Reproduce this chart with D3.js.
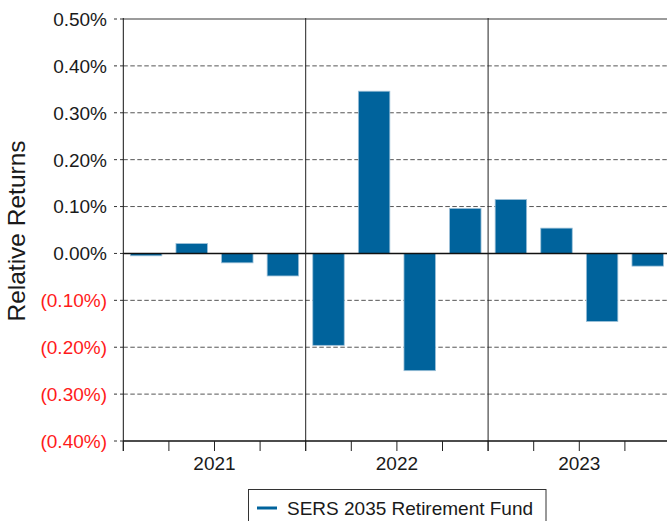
<!DOCTYPE html>
<html>
<head>
<meta charset="utf-8">
<script src="https://cdn.jsdelivr.net/npm/d3@7"></script>
<style>
  html, body { margin: 0; padding: 0; background: #fff; }
  svg { display: block; font-family: "Liberation Sans", Arial, sans-serif; }
</style>
</head>
<body>
<svg id="chart" width="667" height="521"></svg>
<script>
// Quarterly relative returns (%), 2021 Q1 – 2023 Q4
const years = ["2021", "2022", "2023"];
const periods = ["2021Q1","2021Q2","2021Q3","2021Q4","2022Q1","2022Q2","2022Q3","2022Q4","2023Q1","2023Q2","2023Q3","2023Q4"];
const relReturns = [-0.005, 0.021, -0.020, -0.048, -0.196, 0.346, -0.250, 0.096, 0.115, 0.054, -0.145, -0.027];
const yTicks = [0.5, 0.4, 0.3, 0.2, 0.1, 0.0, -0.1, -0.2, -0.3, -0.4];
const seriesName = "SERS 2035 Retirement Fund";

const svg = d3.select("#chart");
const plotLeft = 123.3, plotRight = 670.5, plotTop = 19, plotBottom = 441;

const x = d3.scaleBand().domain(periods).range([plotLeft, plotRight])
  .paddingInner(0.31).paddingOuter(0.155);
const y = d3.scaleLinear().domain([-0.4, 0.5]).range([plotBottom, plotTop]);
const step = x.step();

const fmt = v => {
  const s = Math.abs(v).toFixed(2) + "%";
  return v < 0 ? "(" + s + ")" : s;
};

// horizontal grid
const grid = svg.append("g");
yTicks.forEach(t => {
  if (t === 0 || t === -0.4) return;
  grid.append("line")
    .attr("x1", plotLeft).attr("x2", 667)
    .attr("y1", y(t)).attr("y2", y(t))
    .attr("stroke", t === 0.5 ? "#7a7a7a" : "#555")
    .attr("stroke-width", t === 0.5 ? 1.3 : 1)
    .attr("stroke-dasharray", t === 0.5 ? null : "4.5,2.5");
});

// y tick dashes and labels
const yAxis = svg.append("g");
yTicks.forEach(t => {
  yAxis.append("line")
    .attr("x1", 114).attr("x2", plotLeft)
    .attr("y1", y(t)).attr("y2", y(t))
    .attr("stroke", "#333").attr("stroke-dasharray", "3,3");
  yAxis.append("text")
    .attr("x", 107).attr("y", y(t))
    .attr("dy", "0.36em")
    .attr("text-anchor", "end")
    .attr("font-size", 19)
    .attr("fill", t < 0 ? "#ff1a1a" : "#1a1a1a")
    .text(fmt(t));
});

// bars
svg.append("g").selectAll("rect")
  .data(periods.map((p, i) => ({ p, v: relReturns[i] })))
  .join("rect")
  .attr("x", d => x(d.p))
  .attr("width", x.bandwidth())
  .attr("y", d => y(Math.max(0, d.v)))
  .attr("height", d => Math.abs(y(d.v) - y(0)))
  .attr("fill", "#00639c")
  .attr("stroke", "#9cc0d8")
  .attr("stroke-width", 0.8);

// zero line
svg.append("line")
  .attr("x1", plotLeft).attr("x2", 667)
  .attr("y1", y(0)).attr("y2", y(0))
  .attr("stroke", "#111").attr("stroke-width", 1.5);

// year separators
years.slice(1).forEach((yr, i) => {
  const xs = plotLeft + (i + 1) * 4 * step;
  svg.append("line")
    .attr("x1", xs).attr("x2", xs)
    .attr("y1", plotTop - 1).attr("y2", plotBottom + 10)
    .attr("stroke", "#222").attr("stroke-width", 1);
});

// axes frame
svg.append("line")
  .attr("x1", plotLeft).attr("x2", plotLeft)
  .attr("y1", plotTop - 1).attr("y2", plotBottom + 10)
  .attr("stroke", "#111");
svg.append("line")
  .attr("x1", plotLeft).attr("x2", 667)
  .attr("y1", plotBottom).attr("y2", plotBottom)
  .attr("stroke", "#111").attr("stroke-width", 1.3);

// quarter ticks
periods.forEach((p, i) => {
  const xt = plotLeft + i * step;
  svg.append("line")
    .attr("x1", xt).attr("x2", xt)
    .attr("y1", plotBottom).attr("y2", plotBottom + 10)
    .attr("stroke", "#222");
});

// year labels
years.forEach((yr, i) => {
  svg.append("text")
    .attr("x", plotLeft + (i * 4 + 2) * step)
    .attr("y", 470)
    .attr("text-anchor", "middle")
    .attr("font-size", 19)
    .attr("fill", "#1a1a1a")
    .text(yr);
});

// y title
svg.append("text")
  .attr("transform", "translate(25,231) rotate(-90)")
  .attr("text-anchor", "middle")
  .attr("font-size", 24.5)
  .attr("fill", "#1a1a1a")
  .text("Relative Returns");

// legend
const lg = svg.append("g");
lg.append("rect")
  .attr("x", 248.5).attr("y", 489.5)
  .attr("width", 297.5).attr("height", 60)
  .attr("fill", "#fff").attr("stroke", "#333");
lg.append("line")
  .attr("x1", 257).attr("x2", 277)
  .attr("y1", 508).attr("y2", 508)
  .attr("stroke", "#00639c").attr("stroke-width", 3);
lg.append("text")
  .attr("x", 287).attr("y", 515)
  .attr("font-size", 19)
  .attr("fill", "#1a1a1a")
  .text(seriesName);
</script>
</body>
</html>
